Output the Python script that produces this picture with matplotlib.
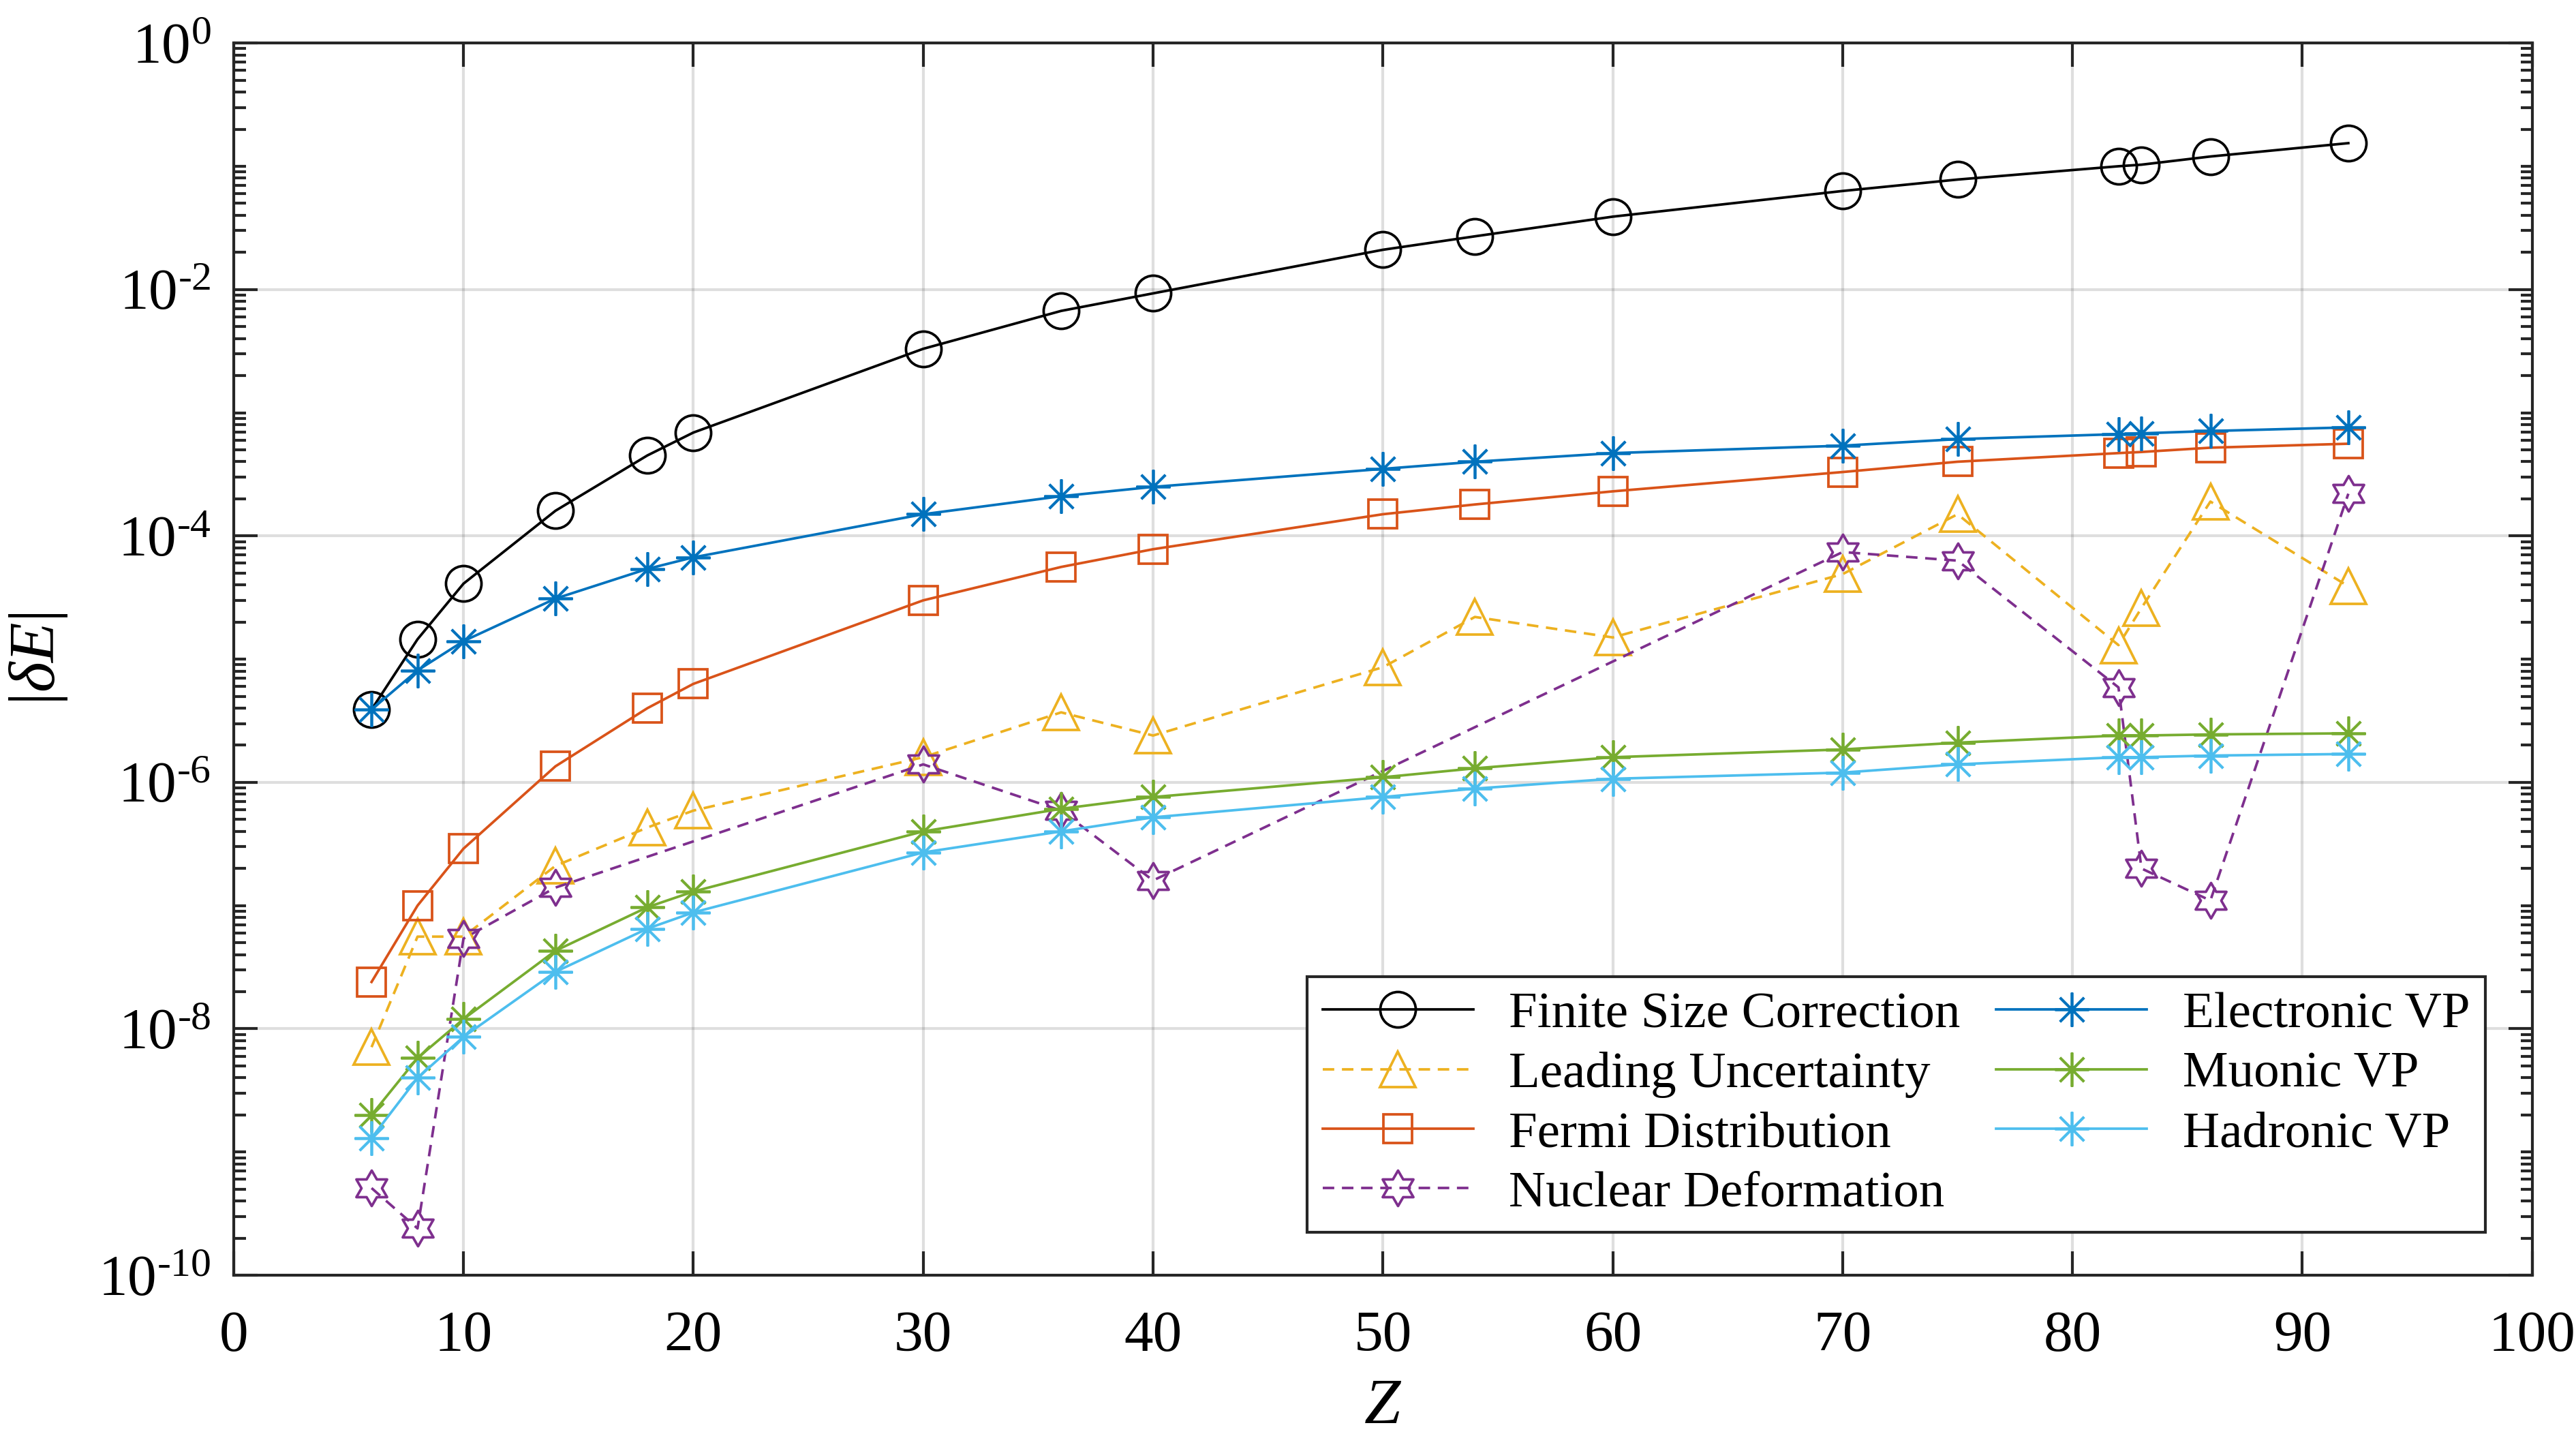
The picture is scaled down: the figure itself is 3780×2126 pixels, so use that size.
import numpy as np
import matplotlib
matplotlib.use("Agg")
import matplotlib.pyplot as plt
from matplotlib.path import Path
from matplotlib.ticker import FixedLocator, LogLocator, FuncFormatter, NullFormatter

# nuclear charge
z_all = [6, 8, 10, 14, 18, 20, 30, 36, 40, 50, 54, 60, 70, 75, 82, 83, 86, 92]
z_def = [6, 8, 10, 14, 30, 36, 40, 70, 75, 82, 83, 86, 92]

finite_size = [3.9e-6, 1.45e-5, 4.1e-5, 1.6e-4, 4.5e-4, 6.9e-4, 3.3e-3, 6.7e-3, 9.3e-3,
               0.021, 0.027, 0.039, 0.063, 0.078, 0.100, 0.103, 0.12, 0.154]
leading_unc = [7.1e-9, 5.6e-8, 5.6e-8, 2.1e-7, 4.3e-7, 5.9e-7, 1.6e-6, 3.7e-6, 2.4e-6,
               8.6e-6, 2.2e-5, 1.5e-5, 4.9e-5, 1.5e-4, 1.3e-5, 2.6e-5, 1.9e-4, 3.9e-5]
fermi = [2.4e-8, 1.0e-7, 2.9e-7, 1.35e-6, 4.0e-6, 6.3e-6, 3.0e-5, 5.6e-5, 7.8e-5,
         1.5e-4, 1.8e-4, 2.3e-4, 3.3e-4, 4.0e-4, 4.7e-4, 4.8e-4, 5.2e-4, 5.6e-4]
nuc_def = [5.1e-10, 2.4e-10, 5.4e-8, 1.4e-7, 1.4e-6, 5.9e-7, 1.6e-7,
           7.4e-5, 6.3e-5, 5.9e-6, 2.0e-7, 1.1e-7, 2.2e-4]
electronic_vp = [3.9e-6, 8.1e-6, 1.4e-5, 3.1e-5, 5.4e-5, 6.7e-5, 1.5e-4, 2.1e-4, 2.5e-4,
                 3.5e-4, 4.0e-4, 4.7e-4, 5.4e-4, 6.1e-4, 6.7e-4, 6.8e-4, 7.1e-4, 7.6e-4]
muonic_vp = [2.0e-9, 5.8e-9, 1.2e-8, 4.3e-8, 9.7e-8, 1.3e-7, 4.0e-7, 6.1e-7, 7.6e-7,
             1.1e-6, 1.3e-6, 1.6e-6, 1.85e-6, 2.1e-6, 2.4e-6, 2.4e-6, 2.45e-6, 2.5e-6]
hadronic_vp = [1.3e-9, 4.0e-9, 8.6e-9, 2.9e-8, 6.5e-8, 8.8e-8, 2.7e-7, 4.0e-7, 5.2e-7,
               7.6e-7, 8.9e-7, 1.07e-6, 1.2e-6, 1.4e-6, 1.6e-6, 1.6e-6, 1.65e-6, 1.7e-6]

x_ticks = list(range(0, 101, 10))
y_major = [1e-10, 1e-8, 1e-6, 1e-4, 1e-2, 1e0]

plt.rcParams['font.family'] = ['Liberation Serif', 'DejaVu Serif']
plt.rcParams['mathtext.fontset'] = 'custom'
plt.rcParams['mathtext.rm'] = 'Liberation Serif'
plt.rcParams['mathtext.it'] = 'Liberation Serif:italic'
plt.rcParams['mathtext.bf'] = 'Liberation Serif:bold'


def hexagram():
    ang = np.pi / 2 + np.arange(12) * np.pi / 6
    rad = np.where(np.arange(12) % 2 == 0, 1.0, 1.0 / np.sqrt(3))
    verts = np.column_stack([rad * np.cos(ang), rad * np.sin(ang)])
    verts = np.vstack([verts, verts[:1]])
    codes = [Path.MOVETO] + [Path.LINETO] * 11 + [Path.CLOSEPOLY]
    return Path(verts, codes)


def decade_label(v, pos):
    e = int(round(np.log10(v)))
    if e < 0:
        return r'$\mathregular{10^{\text{-}%d}}$' % (-e)
    return r'$\mathregular{10^{%d}}$' % e


fig = plt.figure(figsize=(12.6, 7.0867), dpi=300)
ax = fig.add_axes([0.0907, 0.1199, 0.8923, 0.8504])

lw = 0.9
dash = (4.5, 3.0)
ast = (8, 2, 0)

ax.plot(z_all, finite_size, '-', color='black', lw=lw, marker='o', ms=12.5,
        mfc='none', mew=lw, label='Finite Size Correction')
ax.plot(z_all, leading_unc, '--', color='#EDB120', lw=lw, dashes=dash, marker='^',
        ms=12.5, mfc='none', mew=lw, label='Leading Uncertainty')
ax.plot(z_all, fermi, '-', color='#D95319', lw=lw, marker='s', ms=10,
        mfc='none', mew=lw, label='Fermi Distribution')
ax.plot(z_def, nuc_def, '--', color='#7E2F8E', lw=lw, dashes=dash, marker=hexagram(),
        ms=12.5, mfc='none', mew=lw, label='Nuclear Deformation')
ax.plot(z_all, electronic_vp, '-', color='#0072BD', lw=lw, marker=ast, ms=12,
        mew=lw, label='Electronic VP')
ax.plot(z_all, muonic_vp, '-', color='#77AC30', lw=lw, marker=ast, ms=12,
        mew=lw, label='Muonic VP')
ax.plot(z_all, hadronic_vp, '-', color='#4DBEEE', lw=lw, marker=ast, ms=12,
        mew=lw, label='Hadronic VP')

ax.set_yscale('log')
ax.set_xlim(0, 100)
ax.set_ylim(1e-10, 1e0)

ax.xaxis.set_major_locator(FixedLocator(x_ticks))
ax.yaxis.set_major_locator(FixedLocator(y_major))
ax.yaxis.set_minor_locator(LogLocator(base=10, subs=np.arange(1, 10), numticks=30))
ax.yaxis.set_minor_formatter(NullFormatter())
ax.yaxis.set_major_formatter(FuncFormatter(decade_label))

ax.grid(True, which='major', color='#262626', alpha=0.15, lw=1.0)
ax.set_axisbelow(True)

spine_col = '#262626'
for s in ax.spines.values():
    s.set_color(spine_col)
    s.set_linewidth(1.0)
ax.tick_params(which='both', direction='in', top=True, right=True, colors=spine_col,
               labelcolor='black', width=1.0)
ax.tick_params(which='major', length=8.5, labelsize=20.5)
ax.tick_params(axis='x', which='major', pad=12.5)
ax.tick_params(axis='y', which='major', pad=8)
ax.tick_params(which='minor', length=4.2)

ax.set_xlabel(r'$Z$', fontsize=23, labelpad=5)
ax.set_ylabel(r'$|\delta E|$', fontsize=23, labelpad=10)

leg = ax.legend(ncol=2, loc='lower right', bbox_to_anchor=(0.9796, 0.035),
                borderaxespad=0, fontsize=18, frameon=True, fancybox=False,
                edgecolor=spine_col, framealpha=1, handlelength=2.95,
                columnspacing=0.7, labelspacing=0.25, borderpad=0.3,
                handletextpad=0.7)
leg.get_frame().set_linewidth(1.0)

fig.savefig('out.png', dpi=300)
